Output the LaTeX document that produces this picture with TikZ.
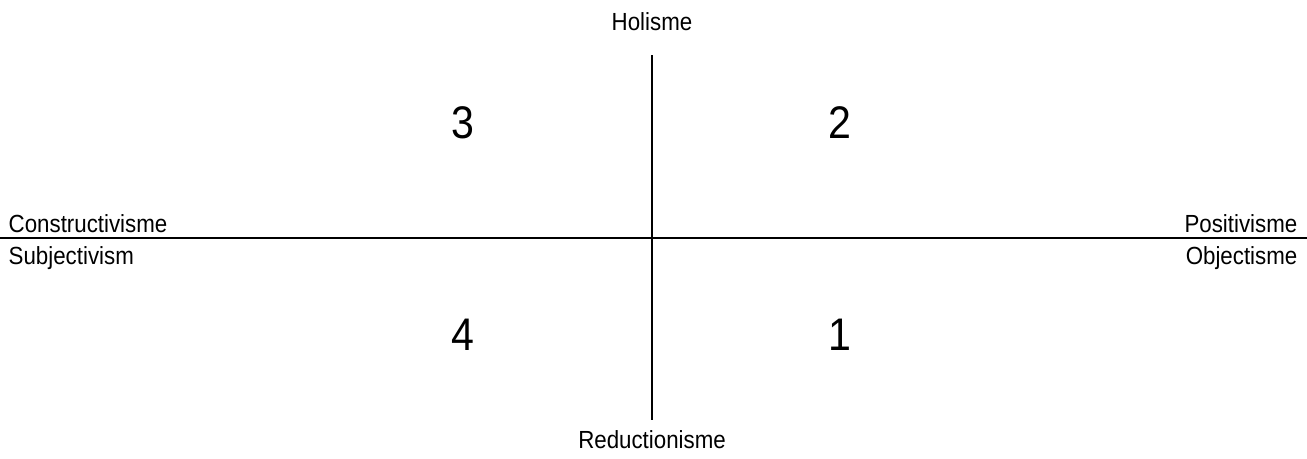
\documentclass[tikz,border=0pt]{standalone}
\usepackage{fontspec}
\setmainfont[FakeStretch=0.9]{Liberation Sans}
\usepackage{tikz}

\tikzset{
	axis/.style={draw=black, line width=0.45pt},
	pole/.style={font=\fontsize{7.05}{8.5}\selectfont, inner sep=0pt},
	quad/.style={font=\fontsize{13}{15}\selectfont, inner sep=0pt, anchor=base}
}

\begin{document}
\begin{tikzpicture}
					\useasboundingbox (0,0) rectangle (13.07,4.58);
					
					\coordinate (west) at (0,2.20);
					\coordinate (east) at (13.07,2.20);
					\coordinate (top) at (6.52,4.03);
					\coordinate (bottom) at (6.52,0.38);
					\draw[axis] (west) -- (east);
					\draw[axis] (top) -- (bottom);
					
					\node[pole] (holisme) at (6.52, 4.36) {Holisme};
					\node[pole] (reductionisme) at (6.52, 0.18) {Reductionisme};
					\node[pole, anchor=base west] (constructivisme) at (0.08, 2.26) {Constructivisme};
					\node[pole, anchor=base west] (subjectivism) at (0.08, 1.94) {Subjectivism};
					\node[pole, anchor=base east] (positivisme) at (12.98, 2.26) {Positivisme};
					\node[pole, anchor=base east] (objectisme) at (12.98, 1.94) {Objectisme};
					
					\node[quad] (q3) at (4.63, 3.20) {3};
					\node[quad] (q2) at (8.40, 3.20) {2};
					\node[quad] (q4) at (4.63, 1.08) {4};
					\node[quad] (q1) at (8.40, 1.08) {1};
					
				\end{tikzpicture}
\end{document}
